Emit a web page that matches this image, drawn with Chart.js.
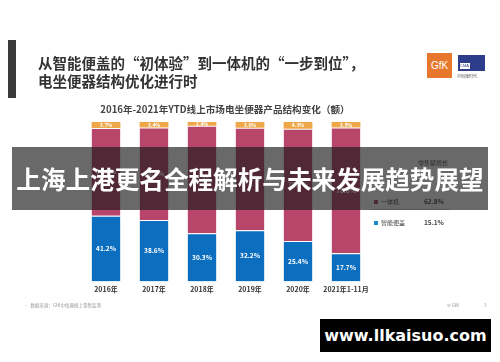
<!DOCTYPE html>
<html lang="zh">
<head>
  <meta charset="utf-8">
  <title>电坐便器产品结构变化</title>
  <script src="https://cdn.jsdelivr.net/npm/chart.js@4.4.1/dist/chart.umd.min.js"></script>
  <style>
    body { margin: 0; padding: 0; background: #fff; font-family: "Noto Sans CJK SC", "Noto Sans", sans-serif; }
    #page { position: relative; width: 500px; height: 362px; overflow: hidden; background: #fff; }
    #chart { position: absolute; left: 0; top: 0; }
    .abs { position: absolute; white-space: nowrap; }
    #bar { left: 8px; top: 40px; width: 8px; height: 58px; background: #3a3a3a; }
    .headline { left: 38px; font-size: 14.5px; font-weight: bold; color: #333; line-height: 17px; }
    #subtitle { left: 0; width: 450px; top: 102px; text-align: center; font-size: 9.6px; font-weight: bold; color: #444; }
    #gfk { left: 427px; top: 53px; width: 25px; height: 25px; background: #e8772e; color: #fff; font: 10px "Liberation Sans", sans-serif; line-height: 25px; text-align: center; }
    #cma { left: 458px; top: 55px; width: 27px; height: 16px; background: #2d3d8c; }
    #cma span { position: absolute; left: 2px; top: 8px; width: 10px; height: 6px; background: #fff; color: #2d3d8c; font: 4px sans-serif; line-height: 6px; }
    #cmatext { left: 457px; top: 73px; font-size: 4px; color: #555; }
    .legend { font-size: 6px; color: #444; }
    .mk { display: inline-block; width: 4px; height: 4px; margin-right: 3px; vertical-align: middle; }
    #sep { left: 372px; top: 209px; width: 78px; height: 1px; background: #ccc; }
    .foot { font-size: 4.5px; color: #999; }
    #banner { left: 12px; top: 147px; width: 476px; height: 63px; background: rgba(28, 28, 28, 0.66); color: #fff; font-size: 24.6px; font-weight: bold; line-height: 63px; text-align: center; }
    #site { left: 320px; top: 319px; width: 171px; height: 33px; background: #000; color: #fff; font: bold 16px "DejaVu Sans", sans-serif; line-height: 33px; text-align: center; }
  </style>
</head>
<body>
<div id="page">
  <canvas id="chart" width="500" height="362"></canvas>

  <div class="abs" id="bar"></div>
  <div class="abs headline" style="top:54px">从智能便盖的“初体验”到一体机的“一步到位”，</div>
  <div class="abs headline" style="top:72px">电坐便器结构优化进行时</div>
  <div class="abs" id="gfk">GfK</div>
  <div class="abs" id="cma"><span>CMA</span></div>
  <div class="abs" id="cmatext">中怡康时代</div>
  <div class="abs" id="subtitle">2016年-2021年YTD线上市场电坐便器产品结构变化（额）</div>

  <div class="abs legend" style="left:418px;top:158px">零售额增长</div>
  <div class="abs legend" id="row0" style="left:374px;top:196px"></div>
  <div class="abs" id="sep"></div>
  <div class="abs legend" id="row1" style="left:374px;top:217px"></div>

  <div class="abs foot" style="left:24px;top:302px">•&nbsp; 数据来源：GfK中怡康线上零售监测</div>
  <div class="abs foot" style="left:447px;top:302px">© GfK</div>
  <div class="abs foot" style="left:484px;top:302px">3</div>

  <div class="abs" id="banner">上海上港更名全程解析与未来发展趋势展望</div>
  <div class="abs" id="site">www.llkaisuo.com</div>
</div>
<script>
  const categories = ['2016年', '2017年', '2018年', '2019年', '2020年', '2021年1-11月'];
  const coverShare = [41.2, 38.6, 30.3, 32.2, 25.4, 17.7];      // 智能便盖
  const integratedShare = [55.1, 58.0, 67.3, 64.2, 70.3, 78.8]; // 一体机
  const otherShare = [3.7, 3.4, 2.4, 3.6, 4.3, 3.5];            // 其他
  const legendNames = ['一体机', '智能便盖'];
  const legendGrowth = ['62.8%', '15.1%'];

  const colors = { cover: '#0c6ebf', integrated: '#b8456a', other: '#eea84a' };

  // legend rows on the right
  const legendColors = [colors.integrated, '#1a8ad0'];
  legendNames.forEach((name, i) => {
    const row = document.getElementById('row' + i);
    row.innerHTML = '<span class="mk" style="background:' + legendColors[i] + '"></span>' +
      '<span style="display:inline-block;width:43px">' + name + '</span>' +
      '<b style="font-size:6.5px">' + legendGrowth[i] + '</b>';
  });

  const barLabels = {
    id: 'barLabels',
    afterDatasetsDraw(chart) {
      const ctx = chart.ctx;
      ctx.save();
      ctx.textAlign = 'center';
      ctx.textBaseline = 'middle';
      ctx.fillStyle = '#fff';
      chart.data.datasets.forEach((ds, i) => {
        const meta = chart.getDatasetMeta(i);
        meta.data.forEach((bar, j) => {
          const mid = (bar.y + bar.base) / 2;
          ctx.font = 'bold ' + (i === 2 ? 5 : 6.5) + 'px "Noto Sans CJK SC", sans-serif';
          ctx.fillText(ds.data[j].toFixed(1) + '%', bar.x, mid);
        });
      });
      ctx.restore();
    }
  };

  new Chart(document.getElementById('chart'), {
    type: 'bar',
    data: {
      labels: categories,
      datasets: [
        { label: '智能便盖', data: coverShare, backgroundColor: colors.cover,
          borderColor: 'rgba(255,255,255,0.55)', borderWidth: { top: 1 }, borderSkipped: false },
        { label: '一体机', data: integratedShare, backgroundColor: colors.integrated,
          borderColor: 'rgba(255,255,255,0.55)', borderWidth: { top: 1 }, borderSkipped: false },
        { label: '其他', data: otherShare, backgroundColor: colors.other, borderWidth: 0 }
      ]
    },
    options: {
      responsive: false,
      animation: false,
      layout: { padding: { left: 82, right: 130, top: 122, bottom: 64 } },
      categoryPercentage: 0.6,
      barPercentage: 1,
      plugins: { legend: { display: false }, tooltip: { enabled: false }, title: { display: false } },
      scales: {
        x: {
          stacked: true,
          grid: { display: false, drawTicks: false },
          border: { display: false },
          ticks: { color: '#333', padding: 4, maxRotation: 0, autoSkip: false,
            font: { size: 7, weight: 'bold', family: '"Noto Sans CJK SC", sans-serif' } }
        },
        y: { stacked: true, display: false, min: 0, max: 100 }
      }
    },
    plugins: [barLabels]
  });
</script>
</body>
</html>
